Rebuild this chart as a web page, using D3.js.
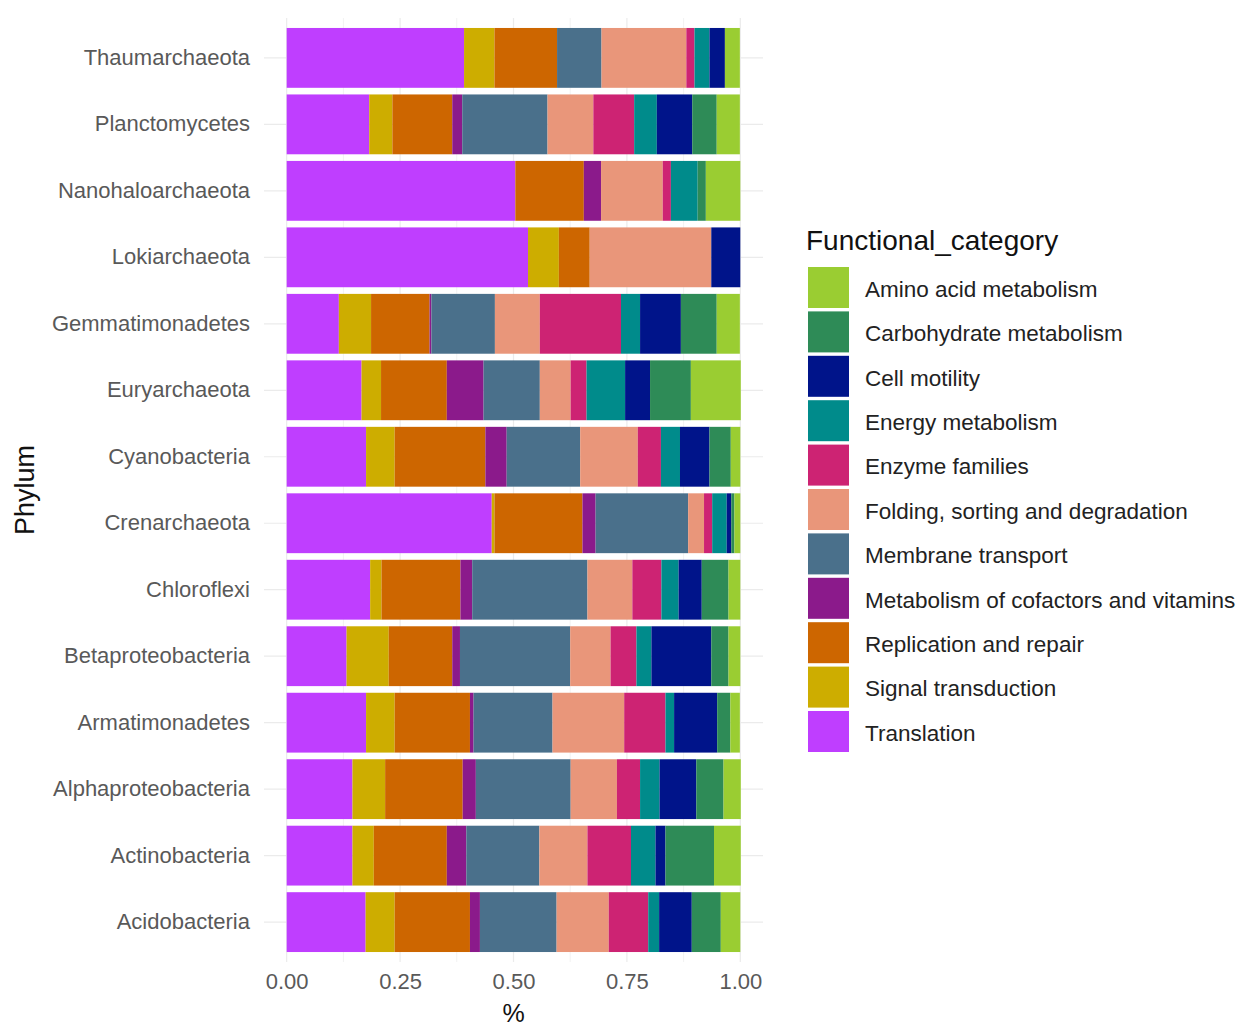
<!DOCTYPE html>
<html>
<head>
<meta charset="utf-8">
<script src="https://cdn.jsdelivr.net/npm/d3@7"></script>
<style>
  body { margin: 0; background: #fff; }
  text { font-family: "Liberation Sans", Arial, sans-serif; }
</style>
</head>
<body>
<div id="chart"></div>
<script>
// phyla, top to bottom
const phyla = ["Thaumarchaeota", "Planctomycetes", "Nanohaloarchaeota", "Lokiarchaeota",
  "Gemmatimonadetes", "Euryarchaeota", "Cyanobacteria", "Crenarchaeota", "Chloroflexi",
  "Betaproteobacteria", "Armatimonadetes", "Alphaproteobacteria", "Actinobacteria", "Acidobacteria"];

// legend order (top to bottom); stacked right-to-left in the bars
const categories = ["Amino acid metabolism", "Carbohydrate metabolism", "Cell motility",
  "Energy metabolism", "Enzyme families", "Folding, sorting and degradation",
  "Membrane transport", "Metabolism of cofactors and vitamins", "Replication and repair",
  "Signal transduction", "Translation"];

const colors = ["#9ACD32", "#2E8B57", "#00148A", "#008B8B", "#CD2373", "#E9967A",
  "#4A708B", "#8B1A8B", "#CD6600", "#CDAD00", "#BF3EFF"];

// shares per phylum, in the order of phyla above
const translation   = [0.391, 0.182, 0.504, 0.532, 0.115, 0.165, 0.175, 0.452, 0.184, 0.132, 0.175, 0.145, 0.145, 0.174];
const signal        = [0.067, 0.051, 0.000, 0.068, 0.071, 0.043, 0.063, 0.006, 0.025, 0.093, 0.063, 0.072, 0.047, 0.064];
const replication   = [0.138, 0.132, 0.151, 0.068, 0.129, 0.145, 0.200, 0.194, 0.174, 0.140, 0.166, 0.171, 0.161, 0.166];
const cofactors     = [0.000, 0.022, 0.038, 0.000, 0.004, 0.081, 0.047, 0.029, 0.026, 0.017, 0.008, 0.029, 0.043, 0.022];
const membrane      = [0.098, 0.188, 0.000, 0.000, 0.140, 0.124, 0.162, 0.204, 0.254, 0.243, 0.174, 0.209, 0.161, 0.169];
const folding       = [0.187, 0.101, 0.136, 0.268, 0.099, 0.068, 0.127, 0.035, 0.099, 0.089, 0.158, 0.102, 0.106, 0.115];
const enzyme        = [0.018, 0.090, 0.018, 0.000, 0.179, 0.035, 0.051, 0.018, 0.064, 0.057, 0.091, 0.051, 0.096, 0.087];
const energy        = [0.033, 0.050, 0.059, 0.000, 0.042, 0.085, 0.042, 0.032, 0.038, 0.033, 0.019, 0.043, 0.054, 0.024];
const motility      = [0.034, 0.078, 0.000, 0.064, 0.090, 0.055, 0.065, 0.010, 0.051, 0.132, 0.095, 0.081, 0.022, 0.072];
const carbohydrate  = [0.000, 0.054, 0.018, 0.000, 0.079, 0.090, 0.047, 0.007, 0.059, 0.038, 0.029, 0.060, 0.107, 0.064];
const aminoacid     = [0.033, 0.051, 0.076, 0.000, 0.051, 0.110, 0.021, 0.013, 0.026, 0.026, 0.021, 0.038, 0.059, 0.043];

const xTicks = [0, 0.25, 0.5, 0.75, 1];

// table for the stack, left segment first
const stackOrder = ["Translation", "Signal transduction", "Replication and repair",
  "Metabolism of cofactors and vitamins", "Membrane transport", "Folding, sorting and degradation",
  "Enzyme families", "Energy metabolism", "Cell motility", "Carbohydrate metabolism", "Amino acid metabolism"];
const byCat = {
  "Translation": translation, "Signal transduction": signal, "Replication and repair": replication,
  "Metabolism of cofactors and vitamins": cofactors, "Membrane transport": membrane,
  "Folding, sorting and degradation": folding, "Enzyme families": enzyme,
  "Energy metabolism": energy, "Cell motility": motility,
  "Carbohydrate metabolism": carbohydrate, "Amino acid metabolism": aminoacid
};
const rows = phyla.map((p, i) => {
  const r = { phylum: p };
  stackOrder.forEach(c => r[c] = byCat[c][i]);
  return r;
});

const W = 1248, H = 1027;
const svg = d3.select("#chart").append("svg").attr("width", W).attr("height", H);

const panel = { left: 264, right: 763, top: 18, bottom: 962 };

const x = d3.scaleLinear().domain([-0.05, 1.05]).range([panel.left, panel.right]);
const y = d3.scaleBand().domain(phyla).range([panel.top, panel.bottom]).paddingInner(0.1).paddingOuter(0.15);
const color = d3.scaleOrdinal().domain(categories).range(colors);

// grid
const grid = svg.append("g");
grid.selectAll(".minor").data(d3.range(0.125, 1, 0.25)).enter().append("line")
  .attr("x1", d => x(d)).attr("x2", d => x(d))
  .attr("y1", panel.top).attr("y2", panel.bottom)
  .attr("stroke", "#f2f2f2").attr("stroke-width", 1);
grid.selectAll(".major").data(xTicks).enter().append("line")
  .attr("x1", d => x(d)).attr("x2", d => x(d))
  .attr("y1", panel.top).attr("y2", panel.bottom)
  .attr("stroke", "#ebebeb").attr("stroke-width", 1.2);
grid.selectAll(".hline").data(phyla).enter().append("line")
  .attr("x1", panel.left).attr("x2", panel.right)
  .attr("y1", d => y(d) + y.bandwidth() / 2).attr("y2", d => y(d) + y.bandwidth() / 2)
  .attr("stroke", "#ebebeb").attr("stroke-width", 1.2);

// bars
const series = d3.stack().keys(stackOrder)(rows);
svg.append("g").selectAll("g").data(series).enter().append("g")
  .attr("fill", d => color(d.key))
  .selectAll("rect").data(d => d).enter().append("rect")
  .attr("x", d => x(d[0]))
  .attr("width", d => Math.max(0, x(d[1]) - x(d[0])))
  .attr("y", d => y(d.data.phylum))
  .attr("height", y.bandwidth());

// axes
const yAxis = svg.append("g").attr("transform", `translate(${panel.left},0)`)
  .call(d3.axisLeft(y).tickSize(0).tickPadding(14));
yAxis.select(".domain").remove();
yAxis.selectAll("text").attr("font-size", 22).attr("fill", "#595959")
  .attr("font-family", "Liberation Sans, Arial, sans-serif");

const xAxis = svg.append("g").attr("transform", `translate(0,${panel.bottom})`)
  .call(d3.axisBottom(x).tickValues(xTicks).tickFormat(d3.format(".2f")).tickSize(0).tickPadding(11));
xAxis.select(".domain").remove();
xAxis.selectAll("text").attr("font-size", 22).attr("fill", "#595959")
  .attr("font-family", "Liberation Sans, Arial, sans-serif");

svg.append("text").attr("x", x(0.5)).attr("y", 1022).attr("text-anchor", "middle")
  .attr("font-size", 25).attr("fill", "#111").text("%");
svg.append("text").attr("transform", `translate(34,${(panel.top + panel.bottom) / 2}) rotate(-90)`)
  .attr("text-anchor", "middle").attr("font-size", 27).attr("fill", "#111").text("Phylum");

// legend
const legend = svg.append("g").attr("transform", "translate(806,0)");
legend.append("text").attr("x", 0).attr("y", 250).attr("font-size", 28).attr("fill", "#111")
  .text("Functional_category");
const item = legend.selectAll(".item").data(categories).enter().append("g")
  .attr("transform", (d, i) => `translate(0,${267 + i * 44.4})`);
item.append("rect").attr("x", 2).attr("width", 41).attr("height", 41).attr("fill", d => color(d));
item.append("text").attr("x", 59).attr("y", 22).attr("dy", "0.35em")
  .attr("font-size", 22.5).attr("fill", "#222").text(d => d);
</script>
</body>
</html>
